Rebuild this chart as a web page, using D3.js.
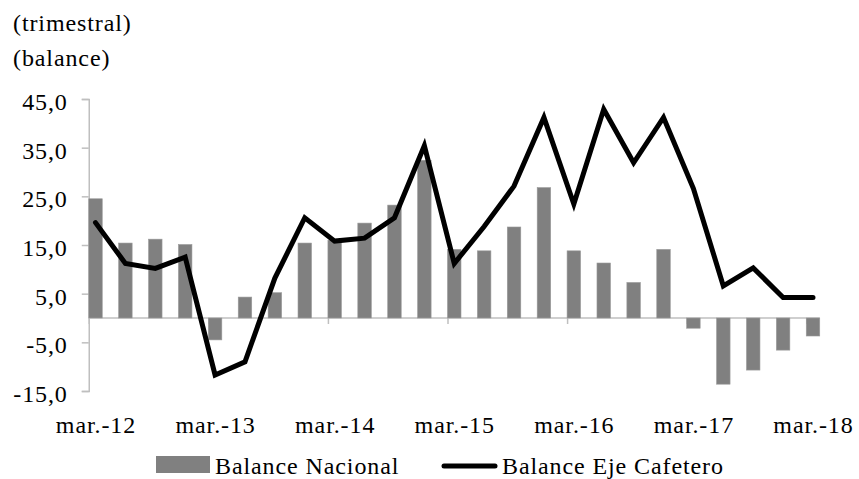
<!DOCTYPE html>
<html>
<head>
<meta charset="utf-8">
<script src="https://cdn.jsdelivr.net/npm/d3@7"></script>
<style>
  body { margin: 0; background: #fff; }
  svg { display: block; }
  text { font-family: "Liberation Serif", "Times New Roman", serif; font-size: 24px; letter-spacing: 0.9px; fill: #000; }
</style>
</head>
<body>
<div class="chart"></div>
<script>
// quarters, mar.-12 .. mar.-18
const categories = [
  "mar.-12", "jun.-12", "sep.-12", "dic.-12",
  "mar.-13", "jun.-13", "sep.-13", "dic.-13",
  "mar.-14", "jun.-14", "sep.-14", "dic.-14",
  "mar.-15", "jun.-15", "sep.-15", "dic.-15",
  "mar.-16", "jun.-16", "sep.-16", "dic.-16",
  "mar.-17", "jun.-17", "sep.-17", "dic.-17",
  "mar.-18"
];
const balanceNacional = [
  24.5, 15.4, 16.2, 15.1,
  -4.5, 4.3, 5.2, 15.4,
  16.0, 19.5, 23.2, 32.4,
  14.1, 13.8, 18.7, 26.8,
  13.8, 11.3, 7.3, 14.1,
  -2.1, -13.6, -10.7, -6.6,
  -3.7
];
const balanceEje = [
  19.6, 11.2, 10.2, 12.5,
  -11.7, -9.0, 8.2, 20.6,
  15.8, 16.4, 20.6, 35.4,
  11.2, 18.8, 27.1, 41.2,
  23.4, 42.9, 31.9, 41.2,
  26.6, 6.6, 10.3, 4.2,
  4.2
];
const yTicks = [-15, -5, 5, 15, 25, 35, 45];
const xTickLabels = ["mar.-12", "mar.-13", "mar.-14", "mar.-15", "mar.-16", "mar.-17", "mar.-18"];
const seriesNames = ["Balance Nacional", "Balance Eje Cafetero"];
const unitLines = ["(trimestral)", "(balance)"];

const width = 859, height = 479;
const barW = 13.5;
const axisColor = "#bfbfbf";
const barColor = "#808080";
const fontFam = "'Liberation Serif', 'Times New Roman', serif";

const svg = d3.select(".chart").append("svg")
  .attr("width", width)
  .attr("height", height);

// unit labels top left
svg.selectAll(".unit")
  .data(unitLines)
  .enter().append("text")
  .attr("class", "unit")
  .attr("x", 13)
  .attr("y", (d, i) => 31 + i * 35)
  .text(d => d);

const x = d3.scalePoint()
  .domain(categories)
  .range([95.5, 813]);

const y = d3.scaleLinear()
  .domain([-15, 45])
  .range([391, 99]);

const axisLeftX = x(categories[0]) - barW / 2;

// y axis
const gY = svg.append("g")
  .attr("transform", "translate(" + axisLeftX + ",0)")
  .call(d3.axisLeft(y)
    .tickValues(yTicks)
    .tickSize(7)
    .tickPadding(14)
    .tickFormat(d => d.toFixed(1).replace(".", ",")));
gY.select(".domain").attr("stroke", axisColor).attr("stroke-width", 1.5);
gY.selectAll(".tick line").attr("stroke", axisColor).attr("stroke-width", 1.5);
gY.selectAll(".tick text")
  .attr("dy", "0.44em")
  .style("font-family", fontFam)
  .style("font-size", "24px")
  .attr("fill", "#000");

// x axis (ticks sit at the bar left edge, like the original)
const gX = svg.append("g")
  .attr("transform", "translate(0," + y(0) + ")")
  .call(d3.axisBottom(x)
    .tickValues(xTickLabels)
    .tickSize(6)
    .tickPadding(0));
gX.select(".domain").remove();
gX.selectAll(".tick line")
  .attr("x1", -barW / 2).attr("x2", -barW / 2)
  .attr("stroke", axisColor).attr("stroke-width", 1.5);
gX.selectAll(".tick text")
  .attr("y", 115)
  .attr("dy", 0)
  .style("font-family", fontFam)
  .style("font-size", "24px")
  .attr("fill", "#000");
gX.append("line")
  .attr("x1", axisLeftX)
  .attr("x2", x(categories[categories.length - 1]) + barW / 2)
  .attr("stroke", axisColor)
  .attr("stroke-width", 1.5);

// bars
svg.append("g").selectAll(".bar")
  .data(balanceNacional)
  .enter().append("rect")
  .attr("class", "bar")
  .attr("x", (d, i) => x(categories[i]) - barW / 2)
  .attr("y", d => y(Math.max(0, d)))
  .attr("width", barW)
  .attr("height", d => Math.abs(y(d) - y(0)))
  .attr("fill", barColor)
  .attr("stroke", "#9a9a9a")
  .attr("stroke-width", 0.6);

// line
const line = d3.line()
  .x((d, i) => x(categories[i]))
  .y(d => y(d));

svg.append("path")
  .datum(balanceEje)
  .attr("d", line)
  .attr("fill", "none")
  .attr("stroke", "#000")
  .attr("stroke-width", 5)
  .attr("stroke-linejoin", "miter")
  .attr("stroke-linecap", "round");

// legend
const legend = svg.append("g").attr("class", "legend");
legend.append("rect")
  .attr("x", 156).attr("y", 456)
  .attr("width", 54).attr("height", 17)
  .attr("fill", barColor);
legend.append("text")
  .attr("x", 215).attr("y", 474)
  .text(seriesNames[0]);
legend.append("line")
  .attr("x1", 444).attr("x2", 495)
  .attr("y1", 466).attr("y2", 466)
  .attr("stroke", "#000")
  .attr("stroke-width", 5)
  .attr("stroke-linecap", "round");
legend.append("text")
  .attr("x", 502).attr("y", 474)
  .text(seriesNames[1]);
</script>
</body>
</html>
